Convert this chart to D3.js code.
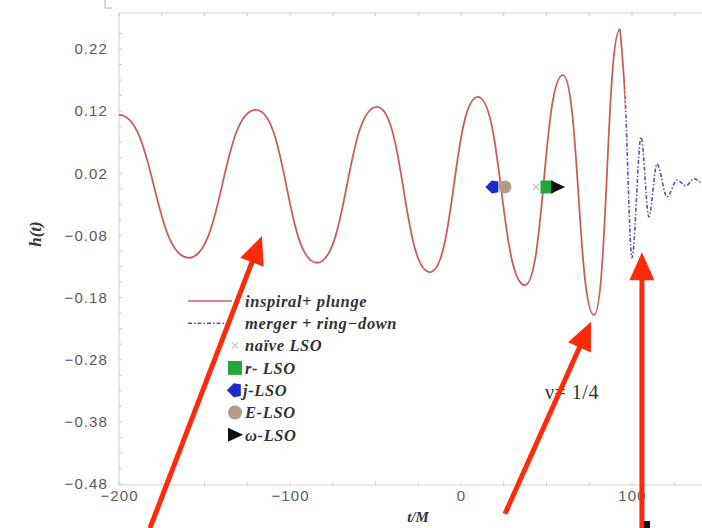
<!DOCTYPE html>
<html>
<head>
<meta charset="utf-8">
<script src="https://cdn.jsdelivr.net/npm/d3@7"></script>
<style>
  body { margin: 0; background: #fff; }
  .axis text { font-family: 'Liberation Sans', sans-serif; font-size: 15px; letter-spacing: 1.1px; fill: #5a5a5a; }
</style>
</head>
<body>
<div class="vis-container"></div>
<script>
// waveform: time t/M and strain h(t), peaks and troughs
const inspiralT = [-200, -159.1, -119.9, -84.2, -49.1, -18.1, 9.9, 37.4, 59.6, 77.8, 93.0];
const inspiralH = [0.114, -0.116, 0.122, -0.124, 0.127, -0.139, 0.143, -0.160, 0.178, -0.208, 0.252];

// merger + ring-down, starting at the last peak of the plunge
const ringdownT = [93.0, 95.9, 100.0, 105.3, 109.9, 114.6, 120.5, 126.3, 131.6, 136.3, 140.9];
const ringdownH = [0.252, 0.146, -0.116, 0.078, -0.05, 0.035, -0.018, 0.009, 0.0, 0.011, 0.003];
const plungeEndT = 95.9;

// LSO markers
const lsoNames = ['naive', 'r', 'j', 'E', 'omega'];
const lsoT = [43.9, 50.3, 18.7, 25.7, 56.5];
const lsoH = [-0.002, -0.002, -0.002, -0.002, -0.002];

const yTicks = [0.22, 0.12, 0.02, -0.08, -0.18, -0.28, -0.38, -0.48];
const xTicks = [-200, -100, 0, 100];

const legendLabels = ['inspiral+ plunge', 'merger + ring\u2212down', 'na\u00efve LSO', 'r- LSO', 'j-LSO', 'E-LSO', '\u03c9-LSO'];

// red annotation arrows: [tailT, tailH, tipT, tipH]
const arrows = [
  [-181.9, -0.551, -116.4, -0.081],
  [25.7, -0.528, 76.0, -0.219],
  [105.8, -0.551, 105.8, -0.107]
];

const width = 702;
const height = 528;

const svg = d3
  .select('.vis-container')
  .append('svg')
  .attr('width', width)
  .attr('height', height);

const xScale = d3.scaleLinear().domain([-200, 100]).range([119, 632]);
const yScale = d3.scaleLinear().domain([-0.48, 0.22]).range([484, 49]);

const plotTop = 13;
const plotBottom = 485;
const plotLeft = 119;

// frame
svg
  .append('path')
  .attr('d', `M${width},${plotTop}H${plotLeft}V${plotBottom}H${width}`)
  .attr('fill', 'none')
  .attr('stroke', '#d4d4d4')
  .attr('stroke-width', 1.2);

// small corner mark at the top left
svg
  .append('path')
  .attr('d', 'M105,0V8H112')
  .attr('fill', 'none')
  .attr('stroke', '#999')
  .attr('stroke-width', 0.8);

// minor ticks along the frame
const minorY = d3.range(-0.48, 0.27, 0.025);
svg
  .append('g')
  .selectAll('line')
  .data(minorY)
  .join('line')
  .attr('x1', plotLeft)
  .attr('x2', plotLeft + 3)
  .attr('y1', (d) => yScale(d))
  .attr('y2', (d) => yScale(d))
  .attr('stroke', '#ccc');
const minorX = d3.range(-200, 141, 25);
svg
  .append('g')
  .selectAll('line')
  .data(minorX)
  .join('line')
  .attr('x1', (d) => xScale(d))
  .attr('x2', (d) => xScale(d))
  .attr('y1', plotBottom)
  .attr('y2', plotBottom - 3)
  .attr('stroke', '#ccc');
svg
  .append('g')
  .selectAll('line')
  .data(minorX)
  .join('line')
  .attr('x1', (d) => xScale(d))
  .attr('x2', (d) => xScale(d))
  .attr('y1', plotTop)
  .attr('y2', plotTop + 3)
  .attr('stroke', '#ccc');

// axes
const yAxis = d3
  .axisLeft(yScale)
  .tickValues(yTicks)
  .tickSize(0)
  .tickPadding(11)
  .tickFormat(d3.format('.2f'));
svg
  .append('g')
  .attr('class', 'y-axis axis')
  .attr('transform', `translate(${plotLeft},0)`)
  .call(yAxis)
  .call((g) => g.select('.domain').remove());

const xAxis = d3
  .axisBottom(xScale)
  .tickValues(xTicks)
  .tickSize(0)
  .tickPadding(5)
  .tickFormat(d3.format('d'));
svg
  .append('g')
  .attr('class', 'x-axis axis')
  .attr('transform', `translate(0,${plotBottom})`)
  .call(xAxis)
  .call((g) => g.select('.domain').remove());

// axis titles
svg
  .append('text')
  .attr('transform', 'translate(41,234) rotate(-90)')
  .attr('text-anchor', 'middle')
  .attr('font-family', 'Liberation Serif, serif')
  .attr('font-style', 'italic')
  .attr('font-weight', 'bold')
  .attr('font-size', 17)
  .attr('fill', '#333')
  .text('h(t)');

svg
  .append('text')
  .attr('x', 418)
  .attr('y', 522)
  .attr('text-anchor', 'middle')
  .attr('font-family', 'Liberation Serif, serif')
  .attr('font-style', 'italic')
  .attr('font-weight', 'bold')
  .attr('font-size', 15)
  .attr('fill', '#333')
  .text('t/M');

// curves
const inspiral = inspiralT.map((t, i) => ({ t: t, h: inspiralH[i] }));
const ringdown = ringdownT.map((t, i) => ({ t: t, h: ringdownH[i] }));

const bumpLine = d3
  .line()
  .curve(d3.curveBumpX)
  .x((d) => xScale(d.t))
  .y((d) => yScale(d.h));

const line = d3
  .line()
  .curve(d3.curveMonotoneX)
  .x((d) => xScale(d.t))
  .y((d) => yScale(d.h));

// split the ring-down path where the plunge ends
const defs = svg.append('defs');
defs
  .append('clipPath')
  .attr('id', 'clip-plunge')
  .append('rect')
  .attr('x', 0)
  .attr('y', 0)
  .attr('width', xScale(plungeEndT))
  .attr('height', height);
defs
  .append('clipPath')
  .attr('id', 'clip-ring')
  .append('rect')
  .attr('x', xScale(plungeEndT))
  .attr('y', 0)
  .attr('width', width)
  .attr('height', height);

svg
  .append('path')
  .datum(ringdown)
  .attr('clip-path', 'url(#clip-ring)')
  .attr('fill', 'none')
  .attr('stroke', '#5656b0')
  .attr('stroke-width', 1.6)
  .attr('stroke-dasharray', '4,2,1.5,2')
  .attr('d', line);

svg
  .append('path')
  .datum(inspiral)
  .attr('fill', 'none')
  .attr('stroke', '#cc5c5c')
  .attr('stroke-width', 1.8)
  .attr('stroke-linejoin', 'round')
  .attr('d', bumpLine);

svg
  .append('path')
  .datum(ringdown)
  .attr('clip-path', 'url(#clip-plunge)')
  .attr('fill', 'none')
  .attr('stroke', '#cc5c5c')
  .attr('stroke-width', 1.8)
  .attr('d', line);

// LSO markers
const lsoColor = { naive: '#c8c8c8', r: '#22a83a', j: '#1a2cc8', E: '#b49a8c', omega: '#111' };

function drawMarker(g, name, x, y, s) {
  if (name === 'naive') {
    g.append('path')
      .attr('d', `M${x - 3},${y - 3}L${x + 3},${y + 3}M${x - 3},${y + 3}L${x + 3},${y - 3}`)
      .attr('stroke', lsoColor.naive)
      .attr('stroke-width', 1.4);
  } else if (name === 'r') {
    g.append('rect')
      .attr('x', x - s / 2)
      .attr('y', y - s / 2)
      .attr('width', s)
      .attr('height', s)
      .attr('fill', lsoColor.r);
  } else if (name === 'j') {
    const k = s / 12;
    g.append('path')
      .attr(
        'd',
        `M${x - 7 * k},${y}L${x - 1 * k},${y - 6 * k}L${x + 5 * k},${y - 5 * k}L${x + 5 * k},${y + 5 * k}L${x - 1 * k},${y + 6 * k}Z`
      )
      .attr('fill', lsoColor.j);
  } else if (name === 'E') {
    g.append('circle').attr('cx', x).attr('cy', y).attr('r', s / 2).attr('fill', lsoColor.E);
  } else {
    const k = s / 12;
    g.append('path')
      .attr('d', `M${x - 6 * k},${y - 6 * k}L${x + 7 * k},${y}L${x - 6 * k},${y + 6 * k}Z`)
      .attr('fill', lsoColor.omega);
  }
}

const markerGroup = svg.append('g').attr('class', 'lso');
lsoNames.forEach((name, i) => {
  drawMarker(markerGroup, name, xScale(lsoT[i]), yScale(lsoH[i]), 13);
});

// legend
const legend = svg.append('g').attr('class', 'legend');
const legendX = 188;
const legendY = 301;
const rowGap = 22.3;

legend
  .append('line')
  .attr('x1', legendX)
  .attr('x2', legendX + 44)
  .attr('y1', legendY)
  .attr('y2', legendY)
  .attr('stroke', '#cc5c5c')
  .attr('stroke-width', 1.6);
legend
  .append('line')
  .attr('x1', legendX)
  .attr('x2', legendX + 44)
  .attr('y1', legendY + rowGap)
  .attr('y2', legendY + rowGap)
  .attr('stroke', '#5656b0')
  .attr('stroke-width', 1.6)
  .attr('stroke-dasharray', '4,2,1.5,2');

const legendMarkers = ['naive', 'r', 'j', 'E', 'omega'];
legendMarkers.forEach((name, i) => {
  drawMarker(legend, name, legendX + 47, legendY + rowGap * (i + 2), 14);
});

legend
  .selectAll('text')
  .data(legendLabels)
  .join('text')
  .attr('x', (d, i) => (i === 4 ? legendX + 55 : legendX + 57))
  .attr('y', (d, i) => legendY + rowGap * i)
  .attr('dy', '0.35em')
  .attr('font-family', 'Liberation Serif, serif')
  .attr('font-style', 'italic')
  .attr('font-weight', 'bold')
  .attr('font-size', 16.5)
  .attr('letter-spacing', 0.6)
  .attr('fill', '#333')
  .text((d) => d);

// mass ratio annotation
svg
  .append('text')
  .attr('x', 545)
  .attr('y', 399)
  .attr('font-family', 'Liberation Serif, serif')
  .attr('font-size', 20)
  .attr('letter-spacing', 0.5)
  .attr('fill', '#333')
  .text('\u03bd= 1/4');

// red annotation arrows
const arrowGroup = svg.append('g').attr('class', 'arrows');
arrows.forEach((a) => {
  const x0 = xScale(a[0]);
  const y0 = yScale(a[1]);
  const x1 = xScale(a[2]);
  const y1 = yScale(a[3]);
  const len = Math.hypot(x1 - x0, y1 - y0);
  const ux = (x1 - x0) / len;
  const uy = (y1 - y0) / len;
  const headLen = 28;
  const headW = 12.5;
  const bx = x1 - ux * headLen;
  const by = y1 - uy * headLen;
  arrowGroup
    .append('line')
    .attr('x1', x0)
    .attr('y1', y0)
    .attr('x2', bx + ux * 2)
    .attr('y2', by + uy * 2)
    .attr('stroke', '#ff2a0a')
    .attr('stroke-width', 5);
  arrowGroup
    .append('path')
    .attr(
      'd',
      `M${x1},${y1}L${bx - uy * headW},${by + ux * headW}L${bx + uy * headW},${by - ux * headW}Z`
    )
    .attr('fill', '#ff2a0a');
});

// small black fragment at the bottom edge
svg
  .append('rect')
  .attr('x', 644)
  .attr('y', 521)
  .attr('width', 6)
  .attr('height', 7)
  .attr('fill', '#111');
</script>
</body>
</html>
